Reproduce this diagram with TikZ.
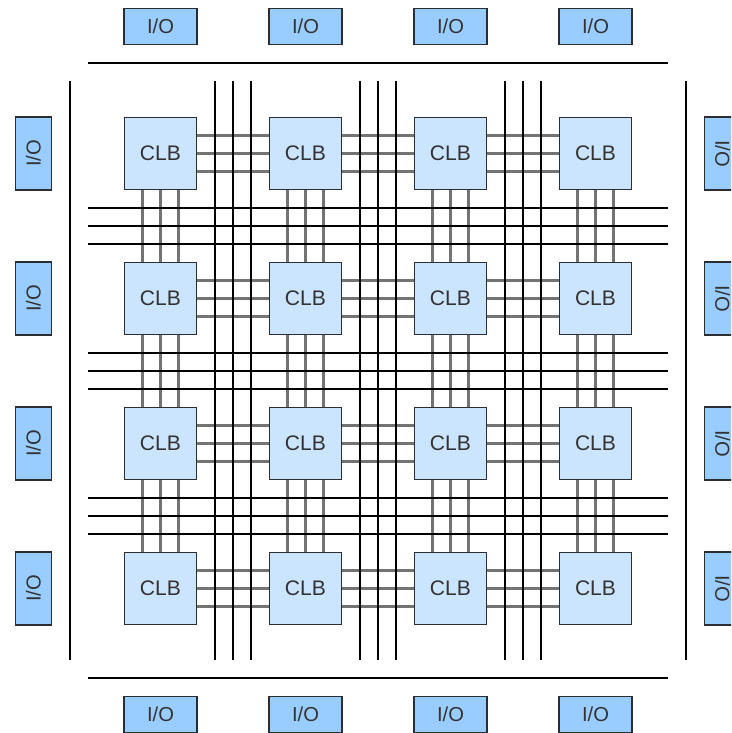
\documentclass[tikz,border=0pt]{standalone}
\usepackage{fontspec}
\setmainfont{Liberation Sans}
\usepackage{xcolor}
\usepackage{tikz}
\usetikzlibrary{positioning}

\definecolor{clbfill}{HTML}{CCE5FF}
\definecolor{iofill}{HTML}{99CCFF}
\definecolor{boxline}{HTML}{2A2D31}

\begin{document}
\begin{tikzpicture}[x=0.02cm, y=-0.02cm,
    clb/.style={draw=boxline, line width=1.1pt, fill=clbfill, minimum width=1.44cm,
      minimum height=1.44cm, inner sep=0pt, font=\fontsize{12}{14}\selectfont, text=black!80},
    io/.style={draw=boxline, line width=1.1pt, fill=iofill, minimum width=1.46cm,
      minimum height=0.72cm, inner sep=0pt, font=\fontsize{11.5}{13}\selectfont, text=black!80},
    wire/.style={line width=1.6pt, black!55},
    track/.style={line width=1.1pt, black}]
  \clip (0,0) rectangle (731,733);
  \fill[white] (0,0) rectangle (731,733);

  % ===== CLB array =====
  \foreach \r in {1,...,4}
    \foreach \c in {1,...,4}
      \node[clb] (clb-\r-\c) at ({160.5+145*(\c-1)}, {153.5+145*(\r-1)}) {CLB};

  % ===== I/O blocks =====
  \foreach \i in {1,...,4} {
    \node[io] (io-top-\i) at ({160.5+145*(\i-1)}, 26.5) {I/O};
    \node[io] (io-bot-\i) at ({160.5+145*(\i-1)}, 714.5) {I/O};
    \node[io, rotate=90] (io-left-\i) at (33.5, {153.5+145*(\i-1)}) {I/O};
    \node[io, rotate=-90] (io-right-\i) at (722.5, {153.5+145*(\i-1)}) {I/O};
  }

  % ===== Local wires between neighbouring CLBs =====
  \foreach \r in {1,...,4}
    \foreach \c/\n in {1/2,2/3,3/4}
      \foreach \o in {-18,0,18}
        \draw[wire] ([yshift=\o*0.02cm]clb-\r-\c.east) -- ([yshift=\o*0.02cm]clb-\r-\n.west);
  \foreach \c in {1,...,4}
    \foreach \r/\n in {1/2,2/3,3/4}
      \foreach \o in {-18,0,18}
        \draw[wire] ([xshift=\o*0.02cm]clb-\r-\c.south) -- ([xshift=\o*0.02cm]clb-\n-\c.north);

  % ===== Routing channels =====
  \foreach \k in {0,1,2}
    \foreach \t in {0,18,36} {
      \draw[track] ({215+145*\k+\t}, 81) -- ({215+145*\k+\t}, 660);
      \draw[track] (88, {208+145*\k+\t}) -- (668, {208+145*\k+\t});
    }

  % outer ring
  \draw[track] (88,63) -- (668,63);
  \draw[track] (88,678) -- (668,678);
  \draw[track] (70,81) -- (70,660);
  \draw[track] (686,81) -- (686,660);
\end{tikzpicture}
\end{document}
